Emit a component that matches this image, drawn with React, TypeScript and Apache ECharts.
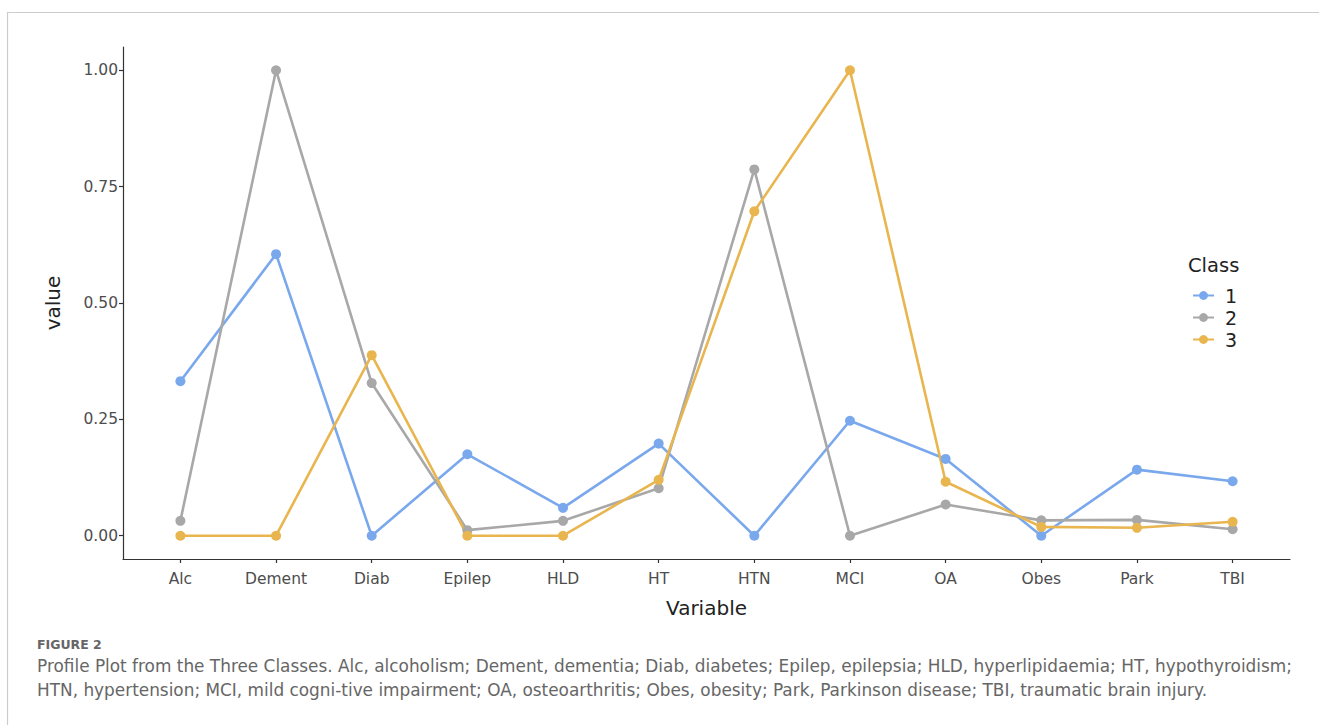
import React, { useEffect, useRef } from "react";
import * as echarts from "echarts";

const categories = ["Alc", "Dement", "Diab", "Epilep", "HLD", "HT", "HTN", "MCI", "OA", "Obes", "Park", "TBI"];
const class1 = [0.332, 0.605, 0, 0.175, 0.06, 0.198, 0, 0.247, 0.165, 0, 0.142, 0.117];
const class2 = [0.032, 1.0, 0.328, 0.012, 0.032, 0.102, 0.787, 0, 0.067, 0.033, 0.034, 0.014];
const class3 = [0, 0, 0.388, 0, 0, 0.12, 0.697, 1.0, 0.116, 0.019, 0.017, 0.03];
const yTicks = [0, 0.25, 0.5, 0.75, 1.0];
const classNames = ["1", "2", "3"];
const colors = ["#7aa8ec", "#a8a8a8", "#e8b54f"];

const captionTitle = "FIGURE 2";
const captionLine1 =
  "Profile Plot from the Three Classes. Alc, alcoholism; Dement, dementia; Diab, diabetes; Epilep, epilepsia; HLD, hyperlipidaemia; HT, hypothyroidism;";
const captionLine2 =
  "HTN, hypertension; MCI, mild cogni-tive impairment; OA, osteoarthritis; Obes, obesity; Park, Parkinson disease; TBI, traumatic brain injury.";

export default function App() {
  const ref = useRef<HTMLDivElement>(null);
  useEffect(() => {
    if (!ref.current) return;
    const chart = echarts.init(ref.current, null, { renderer: "svg" });
    const font = "DejaVu Sans";
    const seriesData = [class1, class2, class3];
    chart.setOption({
      animation: false,
      backgroundColor: "#ffffff",
      grid: { left: 123, right: 29, top: 47, bottom: 166 },
      xAxis: {
        type: "value",
        min: -0.6,
        max: 11.6,
        name: "Variable",
        nameLocation: "middle",
        nameGap: 39,
        nameMoveOverlap: false,
        nameTextStyle: { fontFamily: font, fontSize: 20, color: "#222" },
        splitLine: { show: false },
        axisLine: { show: true, onZero: false, lineStyle: { color: "#333", width: 1.2 } },
        axisTick: {
          show: true,
          length: 4,
          lineStyle: { color: "#333", width: 1.2 },
          customValues: categories.map((_, i) => i),
        },
        axisLabel: {
          customValues: categories.map((_, i) => i),
          formatter: (v: number) => categories[Math.round(v)] ?? "",
          fontFamily: font,
          fontSize: 15.5,
          color: "#4d4d4d",
          margin: 12,
        },
      },
      yAxis: {
        type: "value",
        min: -0.05,
        max: 1.05,
        name: "value",
        nameLocation: "middle",
        nameGap: 60,
        nameMoveOverlap: false,
        nameTextStyle: { fontFamily: font, fontSize: 20, color: "#222" },
        splitLine: { show: false },
        axisLine: { show: true, onZero: false, lineStyle: { color: "#333", width: 1.2 } },
        axisTick: {
          show: true,
          length: 4,
          lineStyle: { color: "#333", width: 1.2 },
          customValues: yTicks,
        },
        axisLabel: {
          customValues: yTicks,
          formatter: (v: number) => v.toFixed(2),
          fontFamily: font,
          fontSize: 15.5,
          color: "#4d4d4d",
          margin: 5,
        },
      },
      legend: {
        orient: "vertical",
        left: 1187,
        top: 281,
        itemWidth: 21,
        itemHeight: 11,
        itemGap: 3,
        textStyle: { fontFamily: font, fontSize: 19, color: "#222", padding: [0, 0, 0, 6] },
        data: classNames,
      },
      series: seriesData.map((arr, k) => ({
        name: classNames[k],
        type: "line",
        data: arr.map((v, i) => [i, v]),
        symbol: "circle",
        symbolSize: 10,
        lineStyle: { color: colors[k], width: 2.6 },
        itemStyle: { color: colors[k] },
        emphasis: { disabled: true },
      })),
      graphic: [
        {
          type: "polyline",
          shape: { points: [[7.5, 730], [7.5, 12.5], [1330, 12.5]] },
          style: { stroke: "#cccccc", lineWidth: 1.2, fill: "none" },
          silent: true,
        },
        {
          type: "text",
          x: 1188,
          y: 265,
          style: { text: "Class", fontFamily: font, fontSize: 19.5, fill: "#222", verticalAlign: "middle" },
        },
        {
          type: "text",
          x: 37,
          y: 644,
          style: {
            text: captionTitle,
            fontFamily: font,
            fontSize: 12.5,
            fill: "#666",
            fontWeight: "bold",
            verticalAlign: "middle",
          },
        },
        {
          type: "text",
          x: 37,
          y: 666,
          style: { text: captionLine1, fontFamily: font, fontSize: 16.9, fill: "#666", verticalAlign: "middle" },
        },
        {
          type: "text",
          x: 37,
          y: 690,
          style: { text: captionLine2, fontFamily: font, fontSize: 16.9, fill: "#666", verticalAlign: "middle" },
        },
      ],
    });
    return () => chart.dispose();
  }, []);
  return (
    <div
      ref={ref}
      style={{ position: "fixed", left: 0, top: 0, width: 1319, height: 725, background: "#fff" }}
    />
  );
}
